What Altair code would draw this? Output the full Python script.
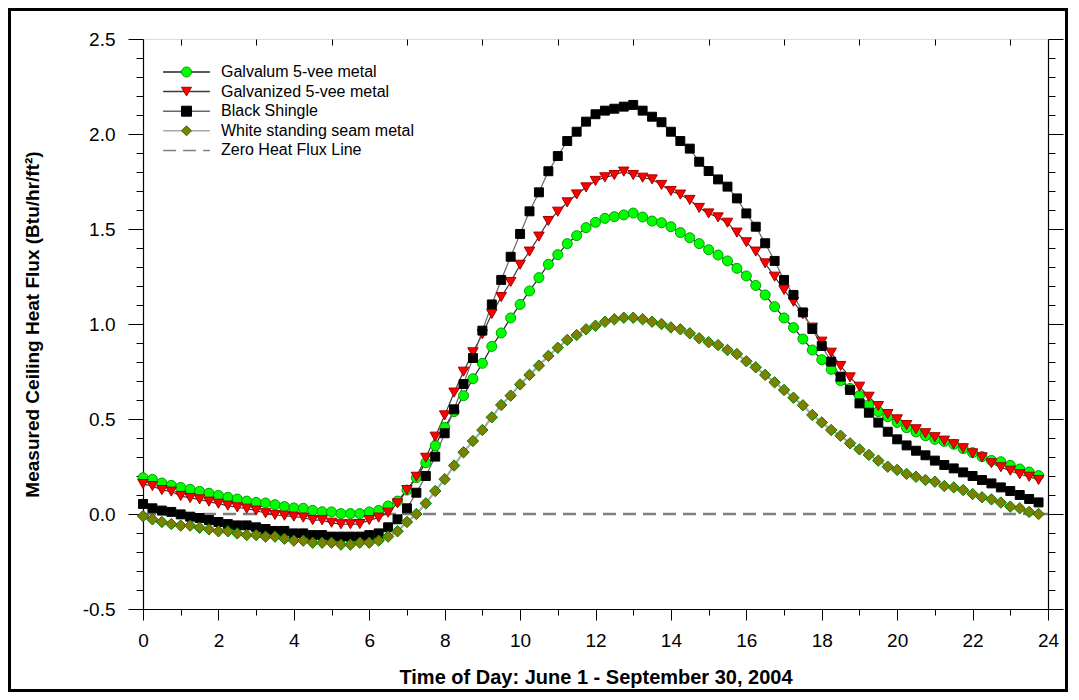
import altair as alt
import pandas as pd

# ---------------- data ----------------
hours = [i * 0.25 for i in range(96)]

galvalum = [0.191, 0.182, 0.163, 0.151, 0.140, 0.130, 0.119, 0.109, 0.098, 0.088,
            0.079, 0.068, 0.061, 0.058, 0.049, 0.039, 0.032, 0.030, 0.019, 0.012,
            0.011, 0.002, 0.002, 0.002, 0.011, 0.019, 0.042, 0.068, 0.126, 0.191,
            0.270, 0.360, 0.456,
            0.539, 0.623, 0.712, 0.793, 0.882, 0.953, 1.032, 1.103, 1.174, 1.244,
            1.314, 1.365, 1.423, 1.465, 1.507, 1.535,
            1.556, 1.565, 1.574, 1.584, 1.563, 1.542, 1.533, 1.512, 1.481, 1.454,
            1.423, 1.391, 1.363, 1.332, 1.293, 1.253,
            1.203, 1.153, 1.091, 1.032, 0.981, 0.921, 0.863, 0.812, 0.761, 0.702,
            0.661, 0.623, 0.574, 0.539, 0.512, 0.482,
            0.454, 0.432, 0.412, 0.393, 0.382, 0.367, 0.344, 0.323, 0.302, 0.282,
            0.275, 0.256, 0.237, 0.221, 0.202]

galvanized = [0.158, 0.147, 0.126, 0.118, 0.095, 0.084, 0.077, 0.065, 0.054, 0.044,
              0.035, 0.028, 0.018, 0.004, -0.005, -0.009, -0.014, -0.019, -0.032, -0.033,
              -0.046, -0.054, -0.054, -0.053, -0.032, -0.019, 0.007, 0.056, 0.126, 0.196,
              0.296, 0.407, 0.519,
              0.639, 0.749, 0.851, 0.946, 1.053, 1.142, 1.221, 1.312, 1.381, 1.460,
              1.542, 1.591, 1.640, 1.682, 1.719, 1.753,
              1.772, 1.784, 1.802, 1.784, 1.770, 1.761, 1.732, 1.700, 1.681, 1.653,
              1.611, 1.582, 1.561, 1.533, 1.481, 1.430,
              1.381, 1.319, 1.249, 1.179, 1.117, 1.051, 0.981, 0.907, 0.849, 0.779,
              0.719, 0.670, 0.617, 0.568, 0.526, 0.498,
              0.468, 0.446, 0.425, 0.404, 0.386, 0.367, 0.346, 0.319, 0.298, 0.267,
              0.246, 0.228, 0.209, 0.196, 0.179]

black_shingle = [0.053, 0.030, 0.018, 0.011, -0.002, -0.014, -0.021, -0.032, -0.042, -0.053,
                 -0.060, -0.060, -0.070, -0.079, -0.089, -0.089, -0.102, -0.102, -0.111, -0.111,
                 -0.119, -0.119, -0.119, -0.119, -0.111, -0.102, -0.070, -0.028, 0.030, 0.112,
                 0.200, 0.302, 0.425,
                 0.551, 0.684, 0.821, 0.965, 1.103, 1.232, 1.354, 1.474, 1.593, 1.693,
                 1.804, 1.884, 1.963, 2.012, 2.065, 2.104,
                 2.123, 2.133, 2.144, 2.153, 2.123, 2.091, 2.062, 2.012, 1.963, 1.923,
                 1.854, 1.805, 1.761, 1.723, 1.661, 1.582,
                 1.512, 1.425, 1.332, 1.232, 1.153, 1.061, 0.974, 0.884, 0.802, 0.723,
                 0.653, 0.582, 0.533, 0.481, 0.433, 0.393,
                 0.361, 0.333, 0.309, 0.281, 0.258, 0.240, 0.219, 0.200, 0.179, 0.161,
                 0.140, 0.121, 0.100, 0.079, 0.061]

white_seam = [-0.011, -0.028, -0.042, -0.053, -0.061, -0.061, -0.072, -0.081, -0.091, -0.091,
              -0.102, -0.111, -0.111, -0.119, -0.119, -0.130, -0.140, -0.140, -0.151, -0.151,
              -0.151, -0.161, -0.161, -0.151, -0.151, -0.140, -0.119, -0.091, -0.042, 0.000,
              0.056, 0.121, 0.183,
              0.255, 0.325, 0.384, 0.442, 0.509, 0.574, 0.623, 0.682, 0.732, 0.781,
              0.832, 0.875, 0.916, 0.942, 0.972, 0.991,
              1.012, 1.025, 1.033, 1.033, 1.025, 1.012, 1.000, 0.982, 0.972, 0.951,
              0.925, 0.904, 0.889, 0.863, 0.842, 0.804,
              0.772, 0.732, 0.693, 0.653, 0.612, 0.572, 0.521, 0.482, 0.442, 0.412,
              0.372, 0.340, 0.311, 0.281, 0.249, 0.232,
              0.211, 0.196, 0.179, 0.170, 0.147, 0.140, 0.126, 0.105, 0.088, 0.077,
              0.060, 0.039, 0.030, 0.011, 0.000]

series_names = ["Galvalum 5-vee metal", "Galvanized 5-vee metal",
                "Black Shingle", "White standing seam metal"]
zero_name = "Zero Heat Flux Line"
zero_hours = [0, 24]
zero_flux = [0.0, 0.0]

x_tick_values = list(range(0, 25))
top_tick_values = list(range(1, 24, 2))
y_tick_values = [round(-0.5 + 0.1 * i, 1) for i in range(31)]

x_title = "Time of Day: June 1 - September 30, 2004"
y_title = "Measured Ceiling Heat Flux (Btu/hr/ft²)"

# ---------------- styles ----------------
marker_shapes = ["circle", "triangle-down", "square", "diamond"]
marker_fills = ["#00ff00", "#ff0000", "#000000", "#808000"]
marker_strokes = ["#00a000", "#a00000", "#000000", "#008000"]
marker_sizes = [100, 110, 80, 130]
line_names = series_names + [zero_name]
line_colors = ["#222222", "#3a3a3a", "#666666", "#a8a8a8", "#808080"]
line_dashes = [[1, 0], [1, 0], [1, 0], [1, 0], [13, 7]]

FONT = "Liberation Sans"

# ---------------- tables ----------------
all_values = [galvalum, galvanized, black_shingle, white_seam]
series_frames = [pd.DataFrame({"series": name, "hour": hours, "flux": vals})
                 for name, vals in zip(series_names, all_values)]
dark_df = pd.concat(series_frames[:3], ignore_index=True)
light_df = series_frames[3]
zero_df = pd.DataFrame({"series": zero_name, "hour": zero_hours, "flux": zero_flux})

x_scale = alt.Scale(domain=[0, 24], nice=False, zero=False)
y_scale = alt.Scale(domain=[-0.5, 2.5], nice=False, zero=False)

major_y_test = "abs(datum.value * 2 - round(datum.value * 2)) < 0.001"

x_axis_main = alt.Axis(
    orient="bottom", values=x_tick_values,
    tickSize={"condition": {"test": "datum.value % 2 === 0", "value": 11}, "value": 6},
    labelExpr="datum.value % 2 === 0 ? datum.label : ''",
    labelFont=FONT, labelFontSize=19, labelColor="black", labelPadding=11,
    labelFlush=False, labelOverlap=False,
    title=x_title, titleFont=FONT, titleFontSize=20, titleFontWeight="bold",
    titleColor="black", titlePadding=17,
    grid=False, domainColor="black", tickColor="black", domainWidth=1.2, tickWidth=1,
)
y_axis_main = alt.Axis(
    orient="left", values=y_tick_values,
    tickSize={"condition": {"test": major_y_test, "value": 15}, "value": 7},
    labelExpr=major_y_test +
    " ? ((datum.value < 0 ? '-' : '') + format(abs(datum.value), '.1f')) : ''",
    labelFont=FONT, labelFontSize=19, labelColor="black", labelPadding=13,
    labelFlush=False, labelOverlap=False,
    title=y_title, titleFont=FONT, titleFontSize=19, titleFontWeight="bold",
    titleColor="black", titlePadding=40,
    grid=False, domainColor="black", tickColor="black", domainWidth=1.2, tickWidth=1,
)
y_axis_right = alt.Axis(
    orient="right", values=y_tick_values,
    tickSize={"condition": {"test": major_y_test, "value": 15}, "value": 7},
    labels=False, title=None, grid=False,
    domainColor="black", tickColor="black", domainWidth=1.2, tickWidth=1,
)
x_axis_top = alt.Axis(
    orient="bottom", offset=-570, values=top_tick_values, tickSize=6,
    labels=False, title=None, grid=False, domain=False,
    tickColor="black", tickWidth=1,
)

legend_common = dict(title=None, orient="none", legendX=35.5, legendY=25,
                     direction="vertical", padding=0, rowPadding=3.6,
                     labelFont=FONT, labelFontSize=16, labelColor="black",
                     labelOffset=26.5, labelLimit=400)

line_legend = alt.Legend(symbolType="M-3.9,0H3.9", symbolSize=144,
                         symbolStrokeWidth=1.5, **legend_common)
marker_legend = alt.Legend(symbolSize=100, symbolStrokeWidth=1,
                           labelOpacity=0, **legend_common)

color_enc = alt.Color("series:N", scale=alt.Scale(domain=line_names, range=line_colors),
                      legend=line_legend)
dash_enc = alt.StrokeDash("series:N", scale=alt.Scale(domain=line_names, range=line_dashes),
                          legend=line_legend)
shape_enc = alt.Shape("series:N", scale=alt.Scale(domain=series_names, range=marker_shapes),
                      legend=marker_legend)
fill_enc = alt.Fill("series:N", scale=alt.Scale(domain=series_names, range=marker_fills),
                    legend=marker_legend)
stroke_enc = alt.Stroke("series:N", scale=alt.Scale(domain=series_names, range=marker_strokes),
                        legend=marker_legend)

frame = alt.Chart(pd.DataFrame({"k": [0]})).mark_rect(
    fillOpacity=0, stroke="black", strokeWidth=3
).encode(
    x=alt.value(-133.5), x2=alt.value(923.5),
    y=alt.value(-29.5), y2=alt.value(651.5),
)

zero_line = alt.Chart(zero_df).mark_line(strokeWidth=2.6).encode(
    x=alt.X("hour:Q", scale=x_scale, axis=x_axis_main),
    y=alt.Y("flux:Q", scale=y_scale, axis=y_axis_main),
    color=color_enc, strokeDash=dash_enc,
)

light_line = alt.Chart(light_df).mark_line(strokeWidth=2.2).encode(
    x=alt.X("hour:Q", scale=x_scale, axis=None),
    y=alt.Y("flux:Q", scale=y_scale, axis=None),
    color=color_enc, strokeDash=dash_enc,
    order=alt.Order("hour:Q"),
)

dark_lines = alt.Chart(dark_df).mark_line(strokeWidth=1.2).encode(
    x=alt.X("hour:Q", scale=x_scale, axis=None),
    y=alt.Y("flux:Q", scale=y_scale, axis=None),
    color=color_enc, strokeDash=dash_enc,
    order=alt.Order("hour:Q"),
)

point_layers = []
for i, (df, msize) in enumerate(zip(series_frames, marker_sizes)):
    point_layers.append(
        alt.Chart(df).mark_point(filled=True, opacity=1, size=msize, strokeWidth=1).encode(
            x=alt.X("hour:Q", scale=x_scale, axis=x_axis_top if i == 0 else None),
            y=alt.Y("flux:Q", scale=y_scale, axis=y_axis_right if i == 0 else None),
            shape=shape_enc, fill=fill_enc, stroke=stroke_enc,
        )
    )

chart = alt.layer(frame, zero_line, light_line, dark_lines, *point_layers).resolve_axis(
    x="independent", y="independent"
).properties(
    width=905, height=570,
    autosize=alt.AutoSizeParams(type="none"),
    padding={"left": 135, "top": 31, "right": 20, "bottom": 83},
    background="white",
).configure_view(
    stroke="black", strokeWidth=1.2
).configure(font=FONT)

chart.save("out.html", embed_options={"renderer": "svg", "actions": False})
